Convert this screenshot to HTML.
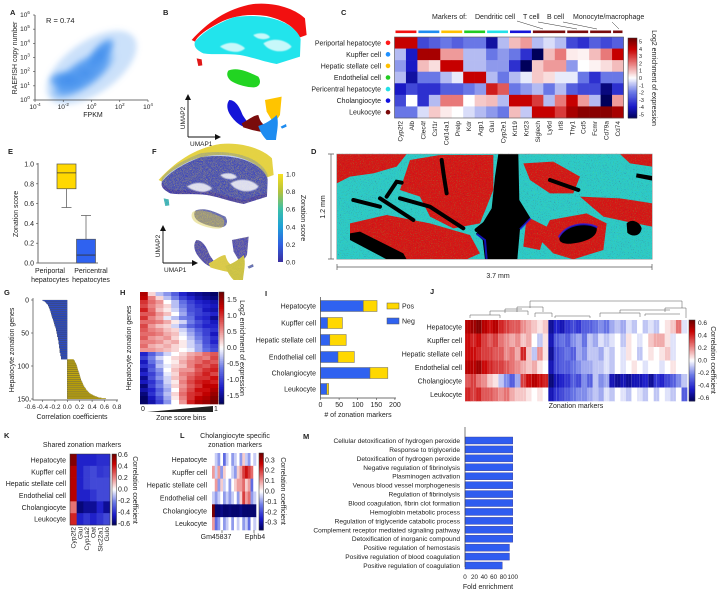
<!DOCTYPE html>
<html><head><meta charset="utf-8"><style>
html,body{margin:0;padding:0;background:#fff;}
svg{display:block;font-family:"Liberation Sans",Arial,sans-serif;}
text{fill:#222;}
</style></head><body>
<svg id="fig" width="720" height="592" viewBox="0 0 720 592" xmlns="http://www.w3.org/2000/svg">
<defs>
<filter id="blur3" x="-50%" y="-50%" width="200%" height="200%"><feGaussianBlur stdDeviation="3"/></filter>
<filter id="blur1" x="-20%" y="-20%" width="140%" height="140%"><feGaussianBlur stdDeviation="1.2"/></filter>
<filter id="speck" x="0" y="0" width="100%" height="100%">
<feTurbulence type="fractalNoise" baseFrequency="0.9" numOctaves="1" seed="3" result="n"/>
<feColorMatrix in="n" type="matrix" values="0 0 0 0 0  0 0 0 0 0  0 0 0 0 0  0 0 0 -2.2 1.25" result="m"/>
<feComposite in="SourceGraphic" in2="m" operator="in"/>
</filter>
<filter id="speckD" x="0" y="0" width="100%" height="100%">
<feTurbulence type="fractalNoise" baseFrequency="0.35" numOctaves="1" seed="7" result="n"/>
<feColorMatrix in="n" type="matrix" values="0 0 0 0 0.1  0 3 0 0 -1.1  0 0 0 0 0.1  0 0 0 -3 1.6"/>
</filter>
<linearGradient id="parula" x1="0" y1="1" x2="0" y2="0">
<stop offset="0" stop-color="#3b2fa0"/><stop offset="0.2" stop-color="#3060e0"/><stop offset="0.4" stop-color="#1ea0d8"/><stop offset="0.6" stop-color="#3cc0a8"/><stop offset="0.8" stop-color="#b4c23c"/><stop offset="1" stop-color="#f8e020"/>
</linearGradient>
<radialGradient id="aCloud"><stop offset="0" stop-color="#2f7fe8" stop-opacity="1"/><stop offset="0.7" stop-color="#3f8ff0" stop-opacity="0.85"/><stop offset="1" stop-color="#6aaaf5" stop-opacity="0"/></radialGradient>
</defs>
</svg>
<script>
// ===================== DATA =====================
const cCols=["Cyp2f2","Alb","Clec4f","Csf1r","Col14a1","Prelp","Kdr","Aqp1","Glul","Cyp2e1","Krt19","Krt23","Siglech","Ly6d","Irf8","Thy1","Ccl5","Fcmr","Cd79a","Cd74"];
const cRows=["Periportal hepatocyte","Kupffer cell","Hepatic stellate cell","Endothelial cell","Pericentral hepatocyte","Cholangiocyte","Leukocyte"];
const cRowColors=["#ff1a1a","#1e90ff","#ffc000","#22cc22","#22e0e8","#1010e0","#7a0a0a"];
const cValues=[
[4,4,-3,-2.5,-2,-2.5,-2,-2,-4.5,-1,1,1.5,-1,-0.5,-1,-3,-3.5,-2.5,-3,-2.5],
[-1,-4,4.5,4.5,1.5,1.5,-1,-1,-2,-1.5,-2,-3.5,-5.5,1,2,0.3,0.2,1,2,4],
[-1.5,-4,1,0.5,4,4,-1,-1,-1.5,-1.5,-3.5,-5.5,0.8,1.5,1.5,-1.5,0,0.2,0.5,1],
[-1,-4.5,-2,-2,-1,-0.3,4,4,-1,-2,-1,-0.3,0.8,0.5,-0.3,-0.3,-2,-3.5,-2,-2],
[-4,-3,-3.5,-3.5,-2.5,-2.5,-2,-1.5,3.5,2.5,-2,-1.5,-1,-2,-1,-2.5,-3,-3,-5,-3.5],
[-3,0,-3.5,-1,2,2,0,0.8,1,-1,4,4,3,-1,2,4,1.5,-1,-5.5,1.5],
[-2,-2,-0.5,0.8,0.3,0,-0.5,-1,-1.5,-2,1,-0.8,4,4,3,4.5,5,5,5,4.5]];
const cTicks=[5,4,3,2,1,0,-1,-2,-3,-4,-5];
const eGroups=["Periportal","Pericentral"];
const eQ1=[0.75,0.0], eMed=[0.91,0.08], eQ3=[1.0,0.24], eWLo=[0.56,0.0], eWHi=[1.0,0.48];
const eTicks=[0,0.2,0.4,0.6,0.8,1.0];
const gBlue=[-0.40,-0.38,-0.36,-0.35,-0.34,-0.33,-0.32,-0.31,-0.31,-0.30,-0.30,-0.29,-0.29,-0.28,-0.28,-0.28,-0.27,-0.27,-0.27,-0.26,-0.26,-0.26,-0.25,-0.25,-0.25,-0.24,-0.24,-0.24,-0.23,-0.23,-0.23,-0.22,-0.22,-0.22,-0.21,-0.21,-0.21,-0.20,-0.20,-0.20,-0.19,-0.19,-0.19,-0.18,-0.18,-0.18,-0.18,-0.17,-0.17,-0.17,-0.17,-0.16,-0.16,-0.16,-0.16,-0.16,-0.15,-0.15,-0.15,-0.15,-0.15,-0.14,-0.14,-0.14,-0.14,-0.14,-0.14,-0.13,-0.13,-0.13,-0.13,-0.13,-0.13,-0.12,-0.12,-0.12,-0.12,-0.12,-0.12,-0.12,-0.11,-0.11,-0.11,-0.11,-0.11,-0.10,-0.10,-0.10,-0.10,-0.10];
const gYellow=[0.10,0.11,0.12,0.12,0.13,0.13,0.14,0.14,0.15,0.15,0.15,0.16,0.16,0.16,0.17,0.17,0.17,0.18,0.18,0.18,0.19,0.19,0.19,0.20,0.20,0.20,0.21,0.21,0.21,0.22,0.22,0.22,0.23,0.23,0.24,0.24,0.25,0.25,0.26,0.26,0.27,0.27,0.28,0.29,0.30,0.30,0.31,0.32,0.33,0.34,0.35,0.36,0.38,0.40,0.42,0.44,0.47,0.50,0.55,0.62];
const gXTicks=[-0.6,-0.4,-0.2,0.0,0.2,0.4,0.6,0.8];
const gYTicks=[0,50,100,150];
const hValues=[
[1.4,0.2,-0.3,-0.5,-0.8,-1.2,-1.4,-1.5,-1.6,-1.7],[1.3,0.6,0.2,-0.3,-0.6,-1.0,-1.2,-1.4,-1.5,-1.6],
[1.0,0.7,0.5,0.0,-0.3,-0.7,-1.0,-1.2,-1.3,-1.4],[0.9,0.6,0.4,0.2,-0.3,-0.6,-0.9,-1.1,-1.2,-1.3],
[1.1,0.7,0.3,0.1,-0.2,-0.5,-0.9,-1.0,-1.3,-1.4],[0.8,0.8,0.5,0.3,0.0,-0.4,-0.8,-1.0,-1.1,-1.2],
[1.0,0.6,0.4,-0.1,-0.3,-0.6,-0.7,-1.1,-1.2,-1.5],[0.7,0.7,0.6,0.4,0.1,-0.2,-0.6,-0.9,-1.1,-1.3],
[0.9,0.5,0.3,0.2,-0.2,-0.5,-0.8,-1.0,-1.2,-1.2],[0.8,0.6,0.5,0.3,0.2,-0.2,-0.5,-0.8,-1.0,-1.1],
[0.7,0.7,0.6,0.4,0.3,-0.1,-0.4,-0.7,-1.0,-1.3],[0.8,0.5,0.4,0.5,0.2,0.0,-0.3,-0.6,-0.9,-1.1],
[0.6,0.6,0.5,0.3,0.4,0.1,-0.2,-0.5,-0.9,-1.2],[0.7,0.4,0.3,0.4,0.2,0.1,-0.2,-0.4,-0.8,-1.0],
[0.5,0.5,0.4,0.3,0.2,0.0,-0.1,-0.4,-0.7,-0.9],[-1.2,-0.8,-0.5,-0.2,0.0,0.2,0.4,0.5,0.7,0.8],
[-1.0,-0.6,-0.2,0.0,0.2,0.3,0.5,0.7,0.6,0.9],[-1.3,-0.7,-0.4,0.0,0.1,0.4,0.6,0.7,0.9,0.8],
[-1.1,-0.9,-0.3,-0.1,0.2,0.3,0.6,0.9,0.8,1.0],[-1.4,-0.8,-0.5,0.0,0.3,0.5,0.5,0.8,1.0,1.1],
[-1.2,-1.0,-0.6,-0.1,0.2,0.6,0.7,0.9,1.1,0.9],[-1.5,-0.9,-0.5,-0.2,0.3,0.5,0.8,1.0,1.0,1.2],
[-1.3,-1.1,-0.7,-0.2,0.1,0.6,0.9,1.1,1.2,1.1],[-1.6,-1.0,-0.6,-0.3,0.2,0.5,0.8,1.0,1.3,1.3],
[-1.4,-1.2,-0.8,-0.4,0.0,0.6,0.9,1.2,1.2,1.4],[-1.6,-1.1,-0.7,-0.3,0.2,0.7,1.0,1.1,1.3,1.5],
[-1.7,-1.3,-0.9,-0.4,0.1,0.6,1.0,1.3,1.4,1.6],[-1.7,-1.4,-1.0,-0.5,0.0,0.5,1.1,1.4,1.5,1.7]];
const hTicks=[1.5,1.0,0.5,0.0,-0.5,-1.0,-1.5];
const iCats=["Hepatocyte","Kupffer cell","Hepatic stellate cell","Endothelial cell","Cholangiocyte","Leukocyte"];
const iNeg=[115,19,25,47,133,17];
const iPos=[37,40,44,44,48,5];
const iTicks=[0,50,100,150,200];
const jRows=["Hepatocyte","Kupffer cell","Hepatic stellate cell","Endothelial cell","Cholangiocyte","Leukocyte"];
const jValues=[
[0.5,0.55,0.6,0.5,0.45,0.5,0.4,0.35,0.3,0.3,0.2,0.15,0.1,0.05,0.1,-0.55,-0.45,-0.5,-0.4,-0.35,-0.4,-0.3,-0.3,-0.25,-0.2,-0.25,-0.15,-0.1,-0.15,-0.05,-0.1,0.0,-0.1,-0.05,-0.1,0.0,0.05,0.1,0.25,-0.05],
[0.45,0.4,0.45,0.35,0.3,0.35,0.25,0.2,0.15,0.2,0.1,0.15,0.0,-0.1,0.05,-0.5,-0.3,-0.25,-0.3,-0.2,-0.15,-0.25,-0.1,-0.15,-0.05,-0.1,-0.05,0.0,-0.1,0.05,0.0,-0.05,0.0,0.1,0.15,0.15,0.05,-0.05,0.0,0.0],
[0.45,0.45,0.4,0.35,0.35,0.3,0.3,0.2,0.25,0.15,0.4,0.1,-0.1,0.2,0.05,-0.55,-0.35,-0.3,-0.25,-0.3,-0.15,-0.2,-0.1,-0.1,-0.15,-0.05,-0.1,0.0,-0.05,0.05,0.0,-0.1,0.0,0.05,0.0,0.05,0.1,-0.05,0.0,0.0],
[0.5,0.5,0.55,0.45,0.4,0.35,0.35,0.3,0.25,0.2,0.15,0.1,0.15,0.05,0.0,-0.5,-0.35,-0.3,-0.3,-0.25,-0.2,-0.15,-0.15,-0.1,-0.1,-0.05,-0.1,0.0,-0.05,0.0,0.05,0.0,-0.05,0.0,0.0,-0.05,0.0,0.05,0.0,0.0],
[0.3,0.35,0.25,0.2,0.1,0.05,-0.1,-0.2,-0.3,-0.15,0.35,0.45,0.5,0.45,0.4,-0.6,-0.5,-0.45,-0.4,-0.3,-0.35,-0.2,-0.3,-0.1,-0.2,-0.15,-0.5,-0.55,-0.5,-0.55,-0.5,-0.5,-0.45,-0.55,-0.4,-0.45,-0.35,-0.3,-0.2,-0.1],
[0.4,0.35,0.4,0.3,0.3,0.25,0.2,0.25,0.15,0.1,0.1,0.05,0.0,0.05,0.0,-0.5,-0.4,-0.35,-0.3,-0.25,-0.2,-0.2,-0.15,-0.1,-0.15,-0.05,-0.1,0.0,-0.05,-0.1,0.0,-0.05,-0.1,0.0,-0.1,0.0,-0.05,-0.1,0.0,-0.3]];
const corrTicks=[0.6,0.4,0.2,0.0,-0.2,-0.4,-0.6];
const kCols=["Cyp2f2","Glul","Cyp1a2","Oat","Slc22a1","Gulo"];
const kValues=[[0.6,-0.45,-0.45,-0.45,-0.42,-0.42],[0.5,-0.45,-0.38,-0.35,-0.4,-0.38],[0.5,-0.45,-0.38,-0.35,-0.35,-0.35],[0.5,-0.45,-0.45,-0.4,-0.35,-0.35],[0.25,-0.6,-0.55,-0.55,-0.45,-0.55],[0.4,-0.45,-0.4,-0.45,-0.4,-0.35]];
const lValues=[
[0.0,-0.05,-0.1,0.0,-0.15,-0.05,0.0,-0.1,-0.05,0.0,-0.1,0.05,-0.05,-0.1,0.0,-0.05],
[0.1,-0.05,0.1,-0.1,0.05,0.0,0.0,-0.05,-0.1,0.05,0.1,0.2,0.25,0.2,0.15,0.0],
[0.0,0.1,-0.1,0.05,-0.05,0.0,-0.1,0.0,0.05,0.1,0.1,0.15,0.05,0.1,-0.15,0.0],
[-0.05,-0.1,-0.05,0.0,-0.1,-0.05,-0.1,-0.05,0.0,-0.1,0.05,0.2,0.1,0.15,-0.1,-0.05],
[0.35,-0.35,-0.35,-0.33,-0.35,-0.35,-0.34,-0.35,-0.35,-0.35,-0.33,-0.35,-0.35,-0.35,-0.35,-0.35],
[0.1,-0.15,-0.1,0.0,-0.1,-0.05,0.0,-0.1,0.0,-0.05,0.0,-0.1,-0.05,-0.15,0.0,-0.05]];
const lTicks=[0.3,0.2,0.1,0.0,-0.1,-0.2,-0.3];
const mTerms=["Cellular detoxification of hydrogen peroxide","Response to triglyceride","Detoxification of hydrogen peroxide","Negative regulation of fibrinolysis","Plasminogen activation","Venous blood vessel morphogenesis","Regulation of fibrinolysis","Blood coagulation, fibrin clot formation","Hemoglobin metabolic process","Regulation of triglyceride catabolic process","Complement receptor mediated signaling pathway","Detoxification of inorganic compound","Positive regulation of hemostasis","Positive regulation of blood coagulation","Positive regulation of coagulation"];
const mValues=[100,100,100,100,100,100,100,100,100,100,100,100,93,93,78];
const mTicks=[0,20,40,60,80,100];

// ===================== HELPERS =====================
const NS='http://www.w3.org/2000/svg';
const svg=document.getElementById('fig');
function mk(tag,attrs,parent){const e=document.createElementNS(NS,tag);for(const k in attrs)e.setAttribute(k,attrs[k]);(parent||svg).appendChild(e);return e;}
function txt(x,y,s,size,anchor,parent,rot){const e=mk('text',{x:x,y:y,'font-size':size,'text-anchor':anchor||'start'},parent);if(rot)e.setAttribute('transform','rotate('+rot+' '+x+' '+y+')');e.textContent=s;return e;}
function grp(name){const g=mk('g',{});return g;}
function hex(c){return [parseInt(c.slice(1,3),16),parseInt(c.slice(3,5),16),parseInt(c.slice(5,7),16)];}
function scale(stops,v){
  if(v<=stops[0][0])return stops[0][1];if(v>=stops[stops.length-1][0])return stops[stops.length-1][1];
  for(let i=0;i<stops.length-1;i++){const a=stops[i],b=stops[i+1];if(v>=a[0]&&v<=b[0]){const t=(v-a[0])/(b[0]-a[0]);const A=hex(a[1]),B=hex(b[1]);return 'rgb('+A.map((x,j)=>Math.round(x+(B[j]-x)*t)).join(',')+')';}}
}
function divStops(m){return [[-m,'#00005a'],[-m*0.72,'#1a1ac8'],[-m*0.36,'#6a78e6'],[0,'#ffffff'],[m*0.36,'#e87a7a'],[m*0.72,'#c80000'],[m,'#6a0000']];}
function colorbar(g,x,y,w,h,m,ticks,tx,fs,dec){
  const n=60;for(let i=0;i<n;i++){const v=m-(i+0.5)*2*m/n;mk('rect',{x:x,y:y+i*h/n,width:w,height:h/n+0.4,fill:scale(divStops(m),v)},g);}
  mk('rect',{x:x,y:y,width:w,height:h,fill:'none',stroke:'#333','stroke-width':0.5},g);
  ticks.forEach(t=>{const yy=y+h/2-(t/m)*(h/2);const tl=txt(tx,yy+2,t.toFixed(dec),fs,'start',g);});
}
function label(x,y,s){const t=txt(x,y,s,7.5,'start');t.setAttribute('font-weight','bold');}

// ===================== PANEL A =====================
(function(){
const g=grp('panel-a-scatter');
label(10,15,'A');
const x0=35,x1=148,y0=100,y1=15;
const xs=v=>x0+(v+4)/8*(x1-x0), ys=v=>y0-(v/6)*(y0-y1);
const cl=mk('g',{filter:'url(#blur3)'},g);


mk('ellipse',{cx:xs(-0.6),cy:ys(1.8),rx:40,ry:15,fill:'url(#aCloud)',transform:'rotate(-35 '+xs(-0.6)+' '+ys(1.8)+')'},cl);
mk('ellipse',{cx:xs(-1.7),cy:ys(1.4),rx:20,ry:10,fill:'url(#aCloud)'},cl);
mk('ellipse',{cx:xs(0.6),cy:ys(3.2),rx:22,ry:9,fill:'url(#aCloud)',transform:'rotate(-50 '+xs(0.6)+' '+ys(3.2)+')'},cl);
mk('ellipse',{cx:xs(0),cy:ys(2.3),rx:52,ry:26,fill:'#6aa8f0',opacity:0.35,transform:'rotate(-35 '+xs(0)+' '+ys(2.3)+')'},cl);
mk('path',{d:`M${x0} ${y0}V${y1}M${x0} ${y0}H${x1}`,stroke:'#444','stroke-width':0.8,fill:'none'},g);
for(let e=-4;e<=4;e+=2){const x=xs(e);mk('line',{x1:x,y1:y0,x2:x,y2:y0+2,stroke:'#444','stroke-width':0.6},g);const t=txt(x,y0+9,'10',6.5,'middle',g);const s=mk('tspan',{dy:-3,'font-size':4.5},t);s.textContent=e;}
for(let e=0;e<=6;e++){const y=ys(e);mk('line',{x1:x0-2,y1:y,x2:x0,y2:y,stroke:'#444','stroke-width':0.6},g);const t=txt(x0-10,y+2,'10',6.5,'middle',g);const s=mk('tspan',{dy:-3,'font-size':4.5},t);s.textContent=e;}
let t=txt(93,117,'FPKM',7,'middle',g);
t=txt(17,58,'RAEFISH copy number',7,'middle',g,-90);
t=txt(46,23,'R = 0.74',7.5,'start',g);
})();

// ===================== PANEL B / F UMAP shapes =====================
const umapShapes={
 top:'M575 120 C620 70 680 25 760 12 C830 5 890 30 915 55 L920 105 L900 112 C885 85 860 62 800 48 C740 40 690 48 640 78 C610 95 592 110 585 125Z',
 mid:'M585 125 C605 100 640 75 700 52 C760 42 830 50 870 78 C890 92 900 108 902 118 L900 170 L830 192 C790 185 760 172 720 165 C680 160 640 165 610 160 C590 150 580 140 585 125Z',
 speck:'M590 175 L605 178 L607 196 L595 198Z',
 green:'M685 212 C710 200 745 215 775 230 C785 245 780 262 760 262 C735 262 700 250 690 240 C680 230 680 220 685 212Z',
 blue:'M688 300 C705 300 718 318 728 345 C738 362 752 372 740 382 C720 380 700 360 688 340 C680 325 680 310 688 300Z',
 maroon:'M725 370 C745 360 762 345 775 345 C780 360 782 372 810 385 L800 398 C780 396 755 390 730 382Z',
 yellow:'M795 300 L845 290 L840 345 L822 372 L800 335Z',
 dodger:'M775 378 C795 372 815 360 830 345 C838 370 830 395 828 420 L800 420 C790 410 780 395 775 378Z',
 dot:'M842 380 L858 372 L860 380 L846 386Z'
};
const holes=['M660 140 C690 120 720 130 735 145 C720 160 690 160 660 140Z','M790 130 C820 110 860 120 875 140 C860 160 810 160 790 130Z','M760 105 C780 95 805 100 810 112 C795 122 770 118 760 105Z'];
(function(){
const g=grp('panel-b-umap-celltypes');
label(163,15,'B');
const s=mk('g',{transform:'scale(0.3333)'},g);
const cols={top:'#f21010',mid:'#22e4ec',speck:'#e01818',green:'#22d422',blue:'#1414d8',maroon:'#7a0c0c',yellow:'#ffc400',dodger:'#1e8cf0',dot:'#1e8cf0'};
for(const k in umapShapes){const p=mk('path',{d:umapShapes[k],fill:cols[k]},s);}
holes.forEach(d=>{mk('path',{d:d,fill:'#fff',opacity:0.75,filter:'url(#blur1)'},s);});
mk('path',{d:'M188 137V99M188 137H216',stroke:'#111','stroke-width':0.9,fill:'none'},g);
mk('path',{d:'M185 100L188 94L191 100Z M215 134L221 137L215 140Z',fill:'#111'},g);
let t=txt(185,118,'UMAP2',6.5,'middle',g,-90);
t=txt(190,146,'UMAP1',6.5,'start',g);
})();
(function(){
const g=grp('panel-f-umap-zonation');
label(152,154,'F');
const s=mk('g',{transform:'translate(-33,140) scale(0.3333)'},g);
const cols={top:'#e4d244',mid:'#3c36b0',speck:'#30b0c8',green:'#5a62c0',blue:'#4644b8',maroon:'#d8c84c',yellow:'#4a48bc',dodger:'#c8c048',dot:'#5060c8'};
for(const k in umapShapes){const p=mk('path',{d:umapShapes[k],fill:cols[k]},s);}
mk('path',{d:umapShapes.mid,fill:'#4a70d0',opacity:0.35,transform:'translate(0,-12)'},s);
mk('path',{d:umapShapes.green,fill:'#d8c848',opacity:0.45,transform:'translate(-8,4)'},s);
const sp=mk('g',{filter:'url(#speck)'},s);
for(const k in umapShapes){mk('path',{d:umapShapes[k],fill:'#e8d440',opacity:0.8},sp);}
holes.forEach(d=>{mk('path',{d:d,fill:'#fff',opacity:0.8,filter:'url(#blur1)'},s);});
mk('rect',{x:278,y:174,width:5,height:88,fill:'url(#parula)'},g);
[1.0,0.8,0.6,0.4,0.2,0.0].forEach(v=>{const y=262-v*88;const t=txt(286,y+2.5,v.toFixed(1),6.8,'start',g);});
let t=txt(301,218,'Zonation score',7,'middle',g,90);
mk('path',{d:'M163 263V230M163 263H193',stroke:'#111','stroke-width':0.9,fill:'none'},g);
mk('path',{d:'M160 231L163 225L166 231Z M192 260L198 263L192 266Z',fill:'#111'},g);
t=txt(160,246,'UMAP2',6.5,'middle',g,-90);
t=txt(164,272,'UMAP1',6.5,'start',g);
})();

// ===================== PANEL C =====================
(function(){
const g=grp('panel-c-marker-heatmap');
label(341,15,'C');
const x0=394.5,y0=37,cw=11.45,ch=11.57;
cValues.forEach((row,r)=>row.forEach((v,c)=>{const rc=mk('rect',{x:x0+c*cw,y:y0+r*ch,width:cw+0.3,height:ch+0.3,fill:scale(divStops(5.5),v)},g);}));
mk('rect',{x:x0,y:y0,width:cw*20,height:ch*7,fill:'none',stroke:'#555','stroke-width':0.6},g);
cRows.forEach((n,r)=>{const t=txt(381,y0+r*ch+ch/2+2.5,n,7,'end',g);const d=mk('circle',{cx:388,cy:y0+r*ch+ch/2,r:2.3,fill:cRowColors[r]},g);});
cCols.forEach((n,c)=>{const x=x0+c*cw+cw/2+2.3;const t=txt(x,121,n,6.5,'end',g,-90);});
const segs=[[0,2,'#f21010'],[2,4,'#1e8cf0'],[4,6,'#ffc000'],[6,8,'#22cc22'],[8,10,'#22e0e8'],[10,12,'#1414d8'],[12,15,'#7a0c0c'],[15,17,'#7a0c0c'],[17,19,'#7a0c0c'],[19,20,'#7a0c0c']];
segs.forEach(s=>{const r=mk('rect',{x:x0+s[0]*cw+1,y:30.5,width:(s[1]-s[0])*cw-2,height:2.6,fill:s[2]},g);});
let t=txt(432,19,'Markers of:',7,'start',g);
t=txt(475,19,'Dendritic cell',7,'start',g);
t=txt(523,19,'T cell',7,'start',g);
t=txt(547,19,'B cell',7,'start',g);
t=txt(573,19,'Monocyte/macrophage',7,'start',g);
mk('path',{d:'M517 21L543 29 M538 22L577 29 M563 22L597 29 M612 22L619 29',stroke:'#333','stroke-width':0.5,fill:'none'},g);
colorbar(g,628,38,9,80,5.5,cTicks,639,5.5,0);
t=txt(652,78,'Log2 enrichment of expression',7,'middle',g,90);
})();

// ===================== PANEL E =====================
(function(){
const g=grp('panel-e-boxplot');
label(8,154,'E');
const ax=38,y0=263,y1=164;const ys=v=>y0-v*(y0-y1);
mk('path',{d:`M${ax} ${y1-1}V${y0}H98`,stroke:'#444','stroke-width':0.8,fill:'none'},g);
eTicks.forEach(v=>{mk('line',{x1:ax-2,y1:ys(v),x2:ax,y2:ys(v),stroke:'#444','stroke-width':0.6},g);const t=txt(ax-4,ys(v)+2.5,v.toFixed(1),7,'end',g);});
const xc=[66.5,86],bw=19,cols=['#ffd800','#2f62f0'];
eGroups.forEach((n,i)=>{
 const w=mk('line',{x1:xc[i],y1:ys(eWLo[i]),x2:xc[i],y2:ys(eWHi[i]),stroke:'#666','stroke-width':0.8},g);
 mk('line',{x1:xc[i]-5,y1:ys(i==0?eWLo[i]:eWHi[i]),x2:xc[i]+5,y2:ys(i==0?eWLo[i]:eWHi[i]),stroke:'#666','stroke-width':0.8},g);
 const b=mk('rect',{x:xc[i]-bw/2,y:ys(eQ3[i]),width:bw,height:ys(eQ1[i])-ys(eQ3[i]),fill:cols[i],stroke:'#555','stroke-width':0.7},g);
 mk('line',{x1:xc[i]-bw/2,y1:ys(eMed[i]),x2:xc[i]+bw/2,y2:ys(eMed[i]),stroke:'#333','stroke-width':0.8},g);
});
let t=txt(50,273,'Periportal',7,'middle',g);
t=txt(50,282,'hepatocytes',7,'middle',g);
t=txt(91,273,'Pericentral',7,'middle',g);
t=txt(91,282,'hepatocytes',7,'middle',g);
t=txt(18,214,'Zonation score',7,'middle',g,-90);
})();

// ===================== PANEL D =====================
(function(){
const g=grp('panel-d-tissue-image');
label(311,154,'D');
const s=mk('g',{transform:'translate(320,140) scale(0.3333)'},g);
mk('rect',{x:50,y:42,width:947,height:316,fill:'#2ccaca'},s);
const red='#d81414';
['M50 42 L260 42 L230 80 L160 100 L90 110 L50 130Z',
 'M270 60 L360 45 L520 45 L520 150 L480 250 L400 265 L330 230 L300 170 L240 150 Z',
 'M90 250 L200 225 L330 250 L450 285 L480 340 L440 358 L250 358 L150 320 L90 300Z',
 'M610 70 L700 65 L780 110 L760 160 L690 160 L630 120Z',
 'M690 240 L800 220 L860 250 L850 330 L760 358 L700 340 L660 300Z',
 'M780 170 L900 175 L997 190 L997 260 L920 245 L850 230Z',
 'M620 230 L680 260 L660 330 L610 320Z',
 'M900 42 L997 42 L997 80 L930 70Z'].forEach(d=>{const p=mk('path',{d:d,fill:red},s);});
mk('rect',{x:50,y:42,width:947,height:316,fill:'#000',filter:'url(#speckD)',opacity:0.35},s);
const blk='#000';
['M535 42 L595 42 L598 180 L632 235 L600 268 L592 358 L495 358 L488 300 L468 282 L515 205 L525 110Z',
 'M90 280 L120 275 L250 340 L260 358 L200 358 L90 300Z',
 'M720 290 C740 250 800 245 830 262 C835 290 800 305 760 310 C730 315 712 305 720 290Z',
 'M920 250 C935 235 960 245 965 265 C962 290 935 292 922 278Z',
 'M950 100 L997 108 L997 122 L948 112Z'].forEach(d=>{const p=mk('path',{d:d,fill:blk},s);});
['M200 170 L230 125 L245 128','M180 175 L280 240','M100 180 L180 200','M365 60 L372 110 L380 160','M240 175 L330 200 L430 265','M690 120 L775 150','M520 230 L470 270'].forEach(d=>{const p=mk('path',{d:d,stroke:blk,'stroke-width':12,fill:'none','stroke-linecap':'round'},s);});
mk('path',{d:'M500 358 L495 300 L470 282 M600 268 L632 235',stroke:'#1a1aff','stroke-width':6,fill:'none',opacity:0.7},s);
mk('path',{d:'M716 292 C740 250 800 245 832 262',stroke:'#1a1aff','stroke-width':6,fill:'none',opacity:0.7},s);
mk('rect',{x:50,y:42,width:947,height:316,fill:'none',stroke:'#999','stroke-width':1.5},s);
mk('path',{d:'M331 154V259 M328 154H334 M328 259H334 M337 267H652 M337 264V270 M652 264V270',stroke:'#555','stroke-width':0.7,fill:'none'},g);
let t=txt(325,207,'1.2 mm',7,'middle',g,-90);
t=txt(498,278,'3.7 mm',7,'middle',g);
})();

// ===================== PANEL G =====================
(function(){
const g=grp('panel-g-correlation-bars');
label(4,295,'G');
const y0=300,gh=0.66,zx=67.3,k=62;const xs=v=>zx+v*k;
const all=gBlue.concat(gYellow);
all.forEach((v,i)=>{const b=mk('rect',{x:Math.min(xs(0),xs(v)),y:y0+i*gh,width:Math.abs(xs(v)-xs(0)),height:gh,fill:v<0?'#2a4fe0':'#e0c000',stroke:'#222','stroke-width':0.15},g);});
mk('path',{d:`M33 ${y0-2}V${y0+150*gh+1}H118`,stroke:'#444','stroke-width':0.7,fill:'none'},g);
gYTicks.forEach(v=>{const y=y0+v*gh;mk('line',{x1:31,y1:y,x2:33,y2:y,stroke:'#444','stroke-width':0.6},g);const t=txt(29,y+2.5,String(v),7,'end',g);});
gXTicks.forEach(v=>{const x=xs(v);mk('line',{x1:x,y1:400,x2:x,y2:402,stroke:'#444','stroke-width':0.6},g);const t=txt(x,409,v.toFixed(1),6.5,'middle',g);});
let t=txt(72,419,'Correlation coefficients',7,'middle',g);
t=txt(14,350,'Hepatocyte zonation genes',7,'middle',g,-90);
})();

// ===================== PANEL H =====================
(function(){
const g=grp('panel-h-zonation-heatmap');
label(120,295,'H');
const x0=140,y0=292,W=78,H=112,nr=hValues.length,nc=hValues[0].length;const cw=W/nc,ch=H/nr;
hValues.forEach((row,r)=>row.forEach((v,c)=>{const rc=mk('rect',{x:x0+c*cw,y:y0+r*ch,width:cw+0.3,height:ch+0.3,fill:scale(divStops(1.75),v)},g);}));
colorbar(g,219,292,5,112,1.75,hTicks,227,7,1);
let t=txt(240,348,'Log2 enrichment of expression',7,'middle',g,90);
t=txt(131,348,'Hepatocyte zonation genes',7,'middle',g,-90);
t=txt(143,411,'0',7,'middle',g);
const w=mk('path',{d:'M147 412 L213 406 L213 412Z',fill:'#222'},g);
t=txt(216,411,'1',7,'middle',g);
t=txt(181,420,'Zone score bins',7,'middle',g);
})();

// ===================== PANEL I =====================
(function(){
const g=grp('panel-i-marker-count-bars');
label(265,296,'I');
const x0=320.5,k=0.372,bh=11;const xs=v=>x0+v*k;
const yc=[306,323,340,357,373,389];
iCats.forEach((n,i)=>{
 const b1=mk('rect',{x:x0,y:yc[i]-bh/2,width:iNeg[i]*k,height:bh,fill:'#2f62f0',stroke:'#666','stroke-width':0.5},g);
 const b2=mk('rect',{x:xs(iNeg[i]),y:yc[i]-bh/2,width:iPos[i]*k,height:bh,fill:'#ffd800',stroke:'#666','stroke-width':0.5},g);
 const t=txt(316,yc[i]+2.5,n,7,'end',g);
});
mk('path',{d:`M${x0} 297V398H396`,stroke:'#444','stroke-width':0.7,fill:'none'},g);
iTicks.forEach(v=>{const x=xs(v);mk('line',{x1:x,y1:398,x2:x,y2:400,stroke:'#444','stroke-width':0.6},g);const t=txt(x,407,String(v),7,'middle',g);});
let t=txt(358,417,'# of zonation markers',7,'middle',g);
const lp=mk('rect',{x:387,y:303,width:12,height:6,fill:'#ffd800',stroke:'#555','stroke-width':0.5},g);
t=txt(402,308.5,'Pos',7,'start',g);
const ln=mk('rect',{x:387,y:318,width:12,height:6,fill:'#2f62f0',stroke:'#555','stroke-width':0.5},g);
t=txt(402,323.5,'Neg',7,'start',g);
})();

// ===================== PANEL J =====================
(function(){
const g=grp('panel-j-correlation-heatmap');
label(430,294,'J');
const x0=465,y0=320,W=222,H=81,nr=jValues.length,nc=jValues[0].length;const cw=W/nc,ch=H/nr;
jValues.forEach((row,r)=>row.forEach((v,c)=>{const rc=mk('rect',{x:x0+c*cw,y:y0+r*ch,width:cw+0.3,height:ch+0.3,fill:scale(divStops(0.65),v)},g);}));
for(let i=0;i<nc*2;i++){mk('line',{x1:x0+i*cw/2,y1:y0,x2:x0+i*cw/2,y2:y0+H,stroke:'#fff','stroke-width':0.35,opacity:(i%3==0)?0.5:0.15},g);}
jRows.forEach((n,r)=>{const t=txt(462,y0+r*ch+ch/2+2.5,n,7,'end',g);});
const d=mk('path',{d:'M530 308V301H682V308 M517 312V307H543V312 M665 312V308H686V318 M470 318V315H500V318 M490 315V311H528V315 M505 313V309H522 M535 317V313H552V317 M555 318V316H590V318 M600 317V313H640V317 M620 313V310H670 M645 316V314H680',stroke:'#555','stroke-width':0.5,fill:'none'},g);


colorbar(g,689,320,6,81,0.65,corrTicks,698,6.5,1);
let t=txt(711,360,'Correlation coefficient',7,'middle',g,90);
t=txt(576,408,'Zonation markers',7,'middle',g);
})();

// ===================== PANEL K =====================
(function(){
const g=grp('panel-k-shared-markers');
label(4,438,'K');
let t=txt(82,447,'Shared zonation markers',7,'middle',g);
const x0=70,y0=454,W=40,H=71,cw=W/6,ch=H/6;
kValues.forEach((row,r)=>row.forEach((v,c)=>{const rc=mk('rect',{x:x0+c*cw,y:y0+r*ch,width:cw+0.3,height:ch+0.3,fill:scale(divStops(0.65),v)},g);}));
mk('rect',{x:x0,y:y0,width:W,height:H,fill:'none',stroke:'#333','stroke-width':0.5},g);
jRows.forEach((n,r)=>{const t=txt(66,y0+r*ch+ch/2+2.5,n,7,'end',g);});
kCols.forEach((n,c)=>{const t=txt(x0+c*cw+cw/2+2.3,527,n,6.8,'end',g,-90);});
colorbar(g,112,454,4.5,71,0.62,corrTicks,118,7,1);
t=txt(133,490,'Correlation coefficient',7,'middle',g,90);
})();

// ===================== PANEL L =====================
(function(){
const g=grp('panel-l-cholangiocyte-markers');
label(180,438,'L');
let t=txt(235,438,'Cholangiocyte specific',7,'middle',g);
t=txt(235,447,'zonation markers',7,'middle',g);
const x0=212,y0=453,W=44,H=77,nc=lValues[0].length,cw=W/nc,ch=H/6;
lValues.forEach((row,r)=>row.forEach((v,c)=>{const rc=mk('rect',{x:x0+c*cw,y:y0+r*ch,width:cw+0.3,height:ch+0.3,fill:scale(divStops(0.37),v)},g);}));
jRows.forEach((n,r)=>{const t=txt(207,y0+r*ch+ch/2+2.5,n,7,'end',g);});
mk('path',{d:'M222 530V533 M254 530V533',stroke:'#333','stroke-width':0.6},g);
t=txt(216,539,'Gm45837',7,'middle',g);
t=txt(255,539,'Ephb4',7,'middle',g);
colorbar(g,259,453,4.5,77,0.37,lTicks,265,7,1);
t=txt(281,491,'Correlation coefficient',7,'middle',g,90);
})();

// ===================== PANEL M =====================
(function(){
const g=grp('panel-m-go-enrichment');
label(303,439,'M');
const x0=465,k=0.478,y0=437,step=8.93,bh=7;
mTerms.forEach((n,i)=>{const y=y0+i*step;const b=mk('rect',{x:x0,y:y,width:mValues[i]*k,height:bh,fill:'#2f5cf0',stroke:'#3a3a90','stroke-width':0.4},g);const t=txt(460,y+bh-1,n,6.6,'end',g);});
mk('line',{x1:x0,y1:427,x2:x0,y2:567,stroke:'#444','stroke-width':0.7},g);
mTicks.forEach(v=>{const t=txt(x0+v*k,579,String(v),6.3,'middle',g);});
let t=txt(488,589,'Fold enrichment',7,'middle',g);
})();
</script>
</body></html>
